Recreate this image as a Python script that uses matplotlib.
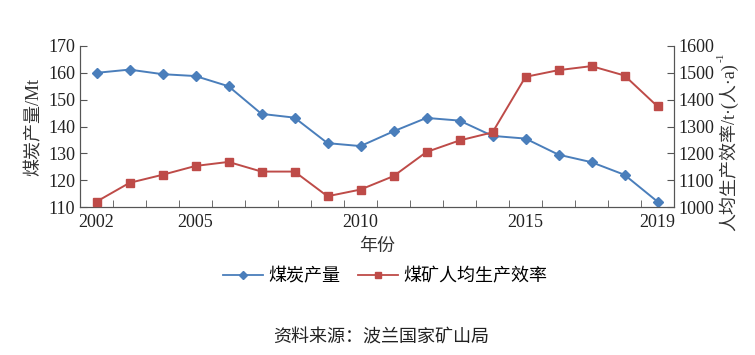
import matplotlib
matplotlib.use("Agg")
import matplotlib.pyplot as plt
from matplotlib import lines

years = list(range(2002, 2020))
coal_output = [160.0, 161.2, 159.5, 158.8, 155.0, 144.7, 143.3, 133.8, 132.7,
               138.2, 143.2, 142.2, 136.5, 135.5, 129.5, 126.7, 122.0, 112.0]
efficiency = [1020, 1090, 1120, 1153, 1168, 1132, 1132, 1040, 1065,
              1115, 1205, 1248, 1278, 1485, 1510, 1525, 1490, 1375]
year_labels = [2002, 2005, 2010, 2015, 2019]

# serif for latin characters, CJK font for the rest
mixed = ["Liberation Serif", "Noto Sans CJK SC", "DejaVu Sans"]
serif = "Liberation Serif"
blue = "#4A7EBB"
red = "#BE4B48"
txt = "#333333"

fig = plt.figure(figsize=(7.55, 3.55), dpi=100)
ax = fig.add_axes([80 / 755, 1 - 207 / 355, 594 / 755, 161 / 355])
ax2 = ax.twinx()

ax.plot(years, coal_output, color=blue, lw=1.4, marker="D", ms=5.5, zorder=3)
ax2.plot(years, efficiency, color=red, lw=1.4, marker="s", ms=6, zorder=3)

ax.set_xlim(2001.5, 2019.5)
ax.set_ylim(110, 170)
ax2.set_ylim(1000, 1600)
ax.set_yticks(range(110, 171, 10))
ax2.set_yticks(range(1000, 1601, 100))

# year boundaries get tick marks, only a few years get labels
ax.set_xticks([y + 0.5 for y in years[:-1]], minor=True)
ax.set_xticks(year_labels)
ax.tick_params(axis="x", which="major", length=0, pad=5)
ax.tick_params(axis="x", which="minor", direction="in", length=5, color="#555555")
ax.tick_params(axis="y", direction="in", length=5, color="#555555")
ax2.tick_params(axis="y", direction="in", length=5, color="#555555")

for a in (ax, ax2):
    a.spines["top"].set_visible(False)
    for s in ("left", "right", "bottom"):
        a.spines[s].set_color("#555555")
    for lab in a.get_xticklabels() + a.get_yticklabels():
        lab.set_fontfamily(serif)
        lab.set_fontsize(13)
        lab.set_color("#222222")

ax.set_ylabel("煤炭产量/Mt", family=mixed, fontsize=13, color=txt,
              weight="light", labelpad=4)
ax.set_xlabel("年份", family=mixed, fontsize=13, color=txt, weight="light",
              labelpad=5)

# right label: main part plus a small "-1" exponent placed after it
right_label = fig.text(729 / 755, 1 - 147 / 355, "人均生产效率/t·(人·a)",
                       family=mixed, fontsize=13, color=txt, weight="light",
                       rotation=90, ha="center", va="center")
fig.canvas.draw()
bb = right_label.get_window_extent().transformed(fig.transFigure.inverted())
fig.text(bb.x0 + 0.002, bb.y1 + 0.004, "-1", family=serif, fontsize=8,
         color=txt, rotation=90, ha="center", va="bottom")

handles = [
    lines.Line2D([], [], color=blue, lw=1.3, marker="D", ms=4.5),
    lines.Line2D([], [], color=red, lw=1.3, marker="s", ms=5),
]
fig.legend(handles, ["煤炭产量", "煤矿人均生产效率"], loc="center",
           bbox_to_anchor=(0.51, 1 - 277 / 355), ncol=2, frameon=False,
           prop={"family": mixed, "size": 13, "weight": "light"},
           handlelength=2.2, handletextpad=0.3, columnspacing=1.0)

fig.text(0.505, 1 - 338 / 355, "资料来源：波兰国家矿山局", ha="center", va="center",
         family=mixed, fontsize=13, weight="light", color="#222222")

fig.savefig("out.png", dpi=100)
